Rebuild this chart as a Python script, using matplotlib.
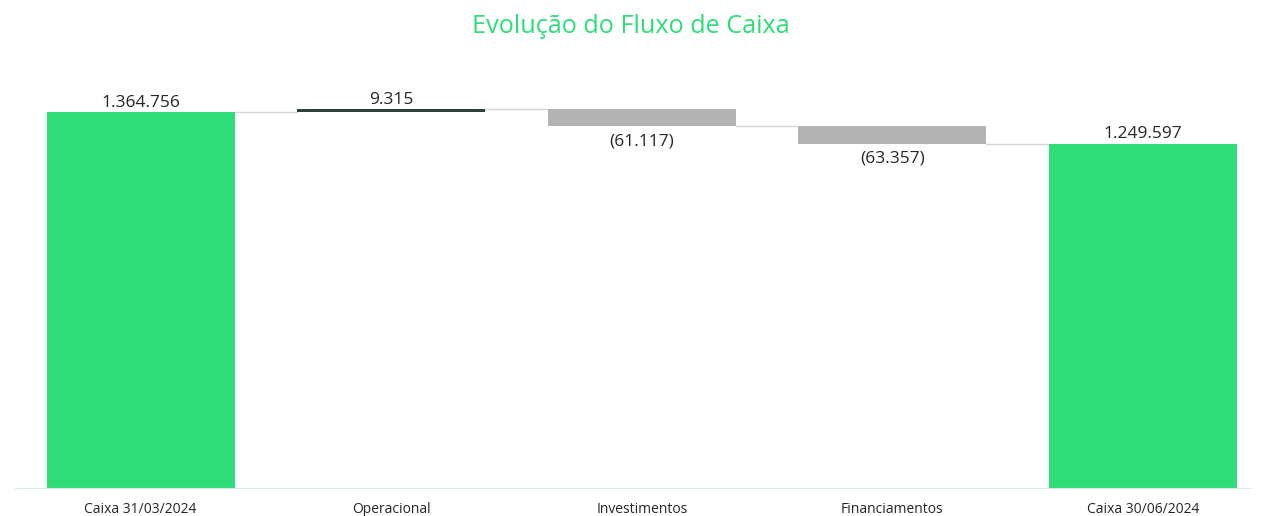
import matplotlib.pyplot as plt
import numpy as np

plt.rcParams['font.family'] = ['Open Sans', 'DejaVu Sans']

# data
categories = ['Caixa 31/03/2024', 'Operacional', 'Investimentos', 'Financiamentos', 'Caixa 30/06/2024']
values = [1364756, 9315, -61117, -63357, 1249597]
is_total = [True, False, False, False, True]

GREEN = '#2EDD7A'
GRAY = '#B3B3B3'
DARK = '#2F3F3A'

def fmt(v):
    s = f"{abs(v):,}".replace(',', '.')
    return f"({s})" if v < 0 else s

fig = plt.figure(figsize=(12.61, 5.16), dpi=100)
ax = fig.add_axes([15 / 1261, 28 / 516, 1235 / 1261, 418 / 516])

x = np.arange(len(categories))
running = 0
bottoms, heights, colors, tops = [], [], [], []
for v, tot in zip(values, is_total):
    if tot:
        bottoms.append(0)
        heights.append(v)
        colors.append(GREEN)
        running = v
    else:
        bottoms.append(running if v > 0 else running + v)
        heights.append(abs(v))
        colors.append(DARK if v > 0 else GRAY)
        running += v
    tops.append(running)

ax.bar(x, heights, bottom=bottoms, width=0.75, color=colors, zorder=2)

# connectors between bars
for i in range(len(x) - 1):
    ax.plot([x[i] + 0.375, x[i + 1] - 0.375], [tops[i], tops[i]],
            color='#D5D5D5', lw=1, zorder=1)

# value labels
for i, (v, tot) in enumerate(zip(values, is_total)):
    if v >= 0:
        ax.annotate(fmt(v), (x[i], bottoms[i] + heights[i]), xytext=(0, 1),
                    textcoords='offset points', ha='center', va='bottom',
                    fontsize=12.5, color='#252525')
    else:
        ax.annotate(fmt(v), (x[i], bottoms[i]), xytext=(0, -5),
                    textcoords='offset points', ha='center', va='top',
                    fontsize=12.5, color='#252525')

ax.set_xlim(-0.501, 4.427)
ax.set_ylim(0, 1517000)
ax.set_xticks(x)
ax.set_xticklabels(categories, fontsize=10, color='#252525')
ax.tick_params(axis='x', length=0, pad=10)
ax.set_yticks([])
for sp in ['top', 'right', 'left']:
    ax.spines[sp].set_visible(False)
ax.spines['bottom'].set_color('#D8ECE4')

fig.text(0.5, 0.948, 'Evolução do Fluxo de Caixa', ha='center', va='center',
         fontsize=18.2, color=GREEN)

fig.savefig('out.png', dpi=100)
